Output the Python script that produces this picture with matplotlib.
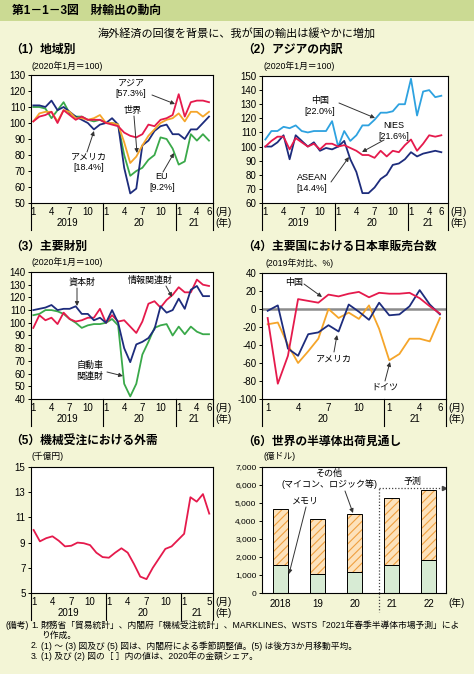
import numpy as np
import matplotlib
matplotlib.use('Agg')
import matplotlib.pyplot as plt
from matplotlib.patches import Rectangle

plt.rcParams['font.family'] = ['Liberation Sans', 'Noto Sans CJK JP']
plt.rcParams['axes.unicode_minus'] = False
plt.rcParams['hatch.linewidth'] = 0.8

# ---- data ----
# (1) by region, 2019/1 - 2021/6, 2020/1 = 100
months_a = list(range(1, 13)) * 2 + list(range(1, 7))
years_a = ['2019', '20', '21']
world = [101, 106, 107, 107, 101, 108, 107, 103, 103, 102, 103, 105,
         100, 100, 99, 88, 75, 79, 86, 92, 96, 100, 102, 103,
         106, 101, 107, 107, 104, 107]
asia = [101, 104, 105, 107, 100, 108, 105, 102, 104, 102, 102, 102,
        100, 99, 98, 94, 92, 91, 93, 99, 98, 102, 103, 105,
        118, 104, 113, 114, 114, 113]
usa = [111, 111, 110, 114, 108, 110, 107, 104, 102, 100, 96, 99,
       100, 103, 99, 72, 56, 59, 86, 89, 95, 98, 99, 93,
       93, 90, 96, 96, 100, 104]
eu = [110, 110, 109, 103, 108, 113, 106, 104, 104, 102, 101, 102,
      100, 100, 99, 80, 67, 70, 72, 77, 80, 91, 90, 84,
      74, 76, 93, 89, 93, 89]

# (2) Asia breakdown
china = [105, 111, 111, 114, 113, 115, 111, 110, 111, 111, 111, 118,
         100, 111, 104, 108, 115, 115, 119, 124, 124, 125, 130, 130,
         148, 122, 139, 140, 135, 136]
nies = [100, 104, 107, 107, 98, 106, 103, 100, 102, 98, 102, 102,
        100, 101, 99, 97, 94, 94, 92, 97, 93, 97, 96, 101,
        105, 97, 102, 108, 107, 108]
asean = [100, 100, 103, 108, 91, 108, 104, 100, 103, 97, 99, 98,
         100, 104, 91, 82, 67, 67, 71, 77, 80, 87, 88, 91,
         96, 93, 95, 96, 97, 96]

# (3) by goods
capital = [110, 111, 112, 114, 110, 111, 111, 113, 107, 107, 102, 104,
           100, 110, 100, 80, 69, 83, 85, 88, 95, 113, 108, 110,
           119, 111, 126, 129, 121, 121]
info = [96, 106, 102, 104, 99, 108, 103, 101, 102, 104, 104, 111,
        100, 106, 101, 102, 97, 92, 101, 115, 117, 112, 118, 122,
        128, 124, 124, 134, 130, 129]
auto = [106, 107, 110, 110, 109, 107, 103, 100, 96, 98, 99, 99,
        100, 103, 98, 52, 42, 52, 75, 85, 96, 98, 99, 90,
        97, 91, 97, 93, 91, 91]

# (4) Japanese car sales, change vs 2019 (%), 2020/1 - 2021/6
months_b = list(range(1, 13)) + list(range(1, 7))
years_b = ['20', '21']
cn_sales = [-10, -83, -52, 11, 9, 7, 16, 14, 17, 19, 13, 18,
            17, 17, 18, 12, 3, -5]
us_sales = [-2, 4, -44, -52, -28, -26, -18, -25, 5, -3, -12, 7,
            -7, -6, 3, 21, 5, -6]
de_sales = [-17, -15, -40, -60, -47, -33, 0, -10, -4, -11, 4, -22,
            -57, -50, -33, -33, -36, -10]

# (5) machinery orders, external demand (千億円), 2019/1 - 2021/5
months_c = list(range(1, 13)) * 2 + list(range(1, 6))
years_c = ['2019', '20', '21']
orders = [10.0, 9.1, 9.35, 9.5, 9.15, 8.7, 8.75, 9.0, 8.95, 8.8, 8.2, 7.85,
          7.8, 8.2, 8.55, 8.2, 7.3, 6.3, 6.1, 7.0, 7.75, 8.5, 8.7, 9.2,
          9.7, 12.6, 12.25, 12.85, 11.3]

# (6) world semiconductor shipments (億ドル)
semi_years = ['2018', '19', '20', '21', '22']
memory = [1580, 1064, 1174, 1552, 1820]
total = [4688, 4123, 4404, 5272, 5734]

# ---- colours ----
BG = '#f3f5d6'
HEAD = '#cbda93'
NAVY = '#1d2c7c'
RED = '#e51a4c'
ORANGE = '#f5a52a'
GREEN = '#3aa94a'
LBLUE = '#2ea2e0'
ARROW = '#333333'

W, H = 474, 674
fig = plt.figure(figsize=(W / 100, H / 100), dpi=100, facecolor=BG)


def fp(x, y):
    return (x / W, 1 - y / H)


def px_axes(l, t, r, b):
    ax = fig.add_axes([l / W, 1 - b / H, (r - l) / W, (b - t) / H])
    ax.set_facecolor('white')
    for s in ax.spines.values():
        s.set_linewidth(0.8)
    ax.tick_params(axis='y', length=2.5, width=0.7, labelsize=7, pad=1.5)
    ax.tick_params(axis='x', length=0, labelsize=7, pad=3)
    ax._hpx = b - t
    return ax


def below(ax, x, px, text, xycoords=('data', 'axes fraction'), dx=0, ha='center'):
    ax.annotate(text, xy=(x, 0), xycoords=xycoords, xytext=(dx, -px * 0.72),
                textcoords='offset points', ha=ha, va='center', fontsize=7,
                annotation_clip=False)


def month_axis(ax, months, years, lim):
    n = len(months)
    ax.set_xlim(lim)
    ticks = [i for i, m in enumerate(months)
             if (m in (1, 4, 7, 10) and n - 1 - i >= 2) or i == n - 1]
    ax.set_xticks(ticks, [str(months[i]) for i in ticks])
    starts = [i for i, m in enumerate(months) if m == 1 and i > 0]
    edges = [lim[0]] + [s - 0.5 for s in starts] + [lim[1]]
    h = 27 / ax._hpx
    trans = ax.get_xaxis_transform()
    for e in edges:
        ax.plot([e, e], [0, -h], transform=trans, clip_on=False, color='k', lw=0.8)
    for k, yl in enumerate(years):
        below(ax, (edges[k] + edges[k + 1]) / 2, 20, yl)
    below(ax, 1, 9, '(月)', xycoords='axes fraction', dx=2, ha='left')
    below(ax, 1, 20, '(年)', xycoords='axes fraction', dx=2, ha='left')


def label(ax, text, xy, tip=None, start=None, size=6.5, ha='center'):
    fig.text(*fp(*xy), text, fontsize=size, ha=ha, va='center', linespacing=1.2)
    if tip is not None:
        ax.annotate('', xy=fp(*tip), xycoords='figure fraction',
                    xytext=fp(*start), textcoords='figure fraction',
                    arrowprops=dict(arrowstyle='-|>', color=ARROW, lw=0.7,
                                    mutation_scale=6, shrinkA=0, shrinkB=0),
                    annotation_clip=False)


# ---- header ----
fig.patches.append(Rectangle(fp(0, 21), 1, 21 / H, transform=fig.transFigure,
                             facecolor=HEAD, edgecolor='none'))
fig.text(*fp(12, 11), '第1－1－3図　財輸出の動向', fontsize=8.5, ha='left',
         va='center', fontweight='bold')
fig.text(*fp(237, 33), '海外経済の回復を背景に、我が国の輸出は緩やかに増加',
         fontsize=8, ha='center', va='center')

titles = [((10, 50), '（1）地域別'), ((242, 50), '（2）アジアの内訳'),
          ((10, 247), '（3）主要財別'), ((242, 247), '（4）主要国における日本車販売台数'),
          ((10, 442), '（5）機械受注における外需'), ((242, 442), '（6）世界の半導体出荷見通し')]
for pos, t in titles:
    fig.text(*fp(*pos), t, fontsize=8.5, ha='left', va='center', fontweight='bold')

units = [((31, 66), '(2020年1月＝100)'), ((264, 66), '(2020年1月＝100)'),
         ((31, 262), '(2020年1月＝100)'), ((266, 263), '(2019年対比、%)'),
         ((31, 456), '(千億円)'), ((264, 456), '(億ドル)')]
for pos, t in units:
    fig.text(*fp(*pos), t, fontsize=6.3, ha='left', va='center')

# ---- (1) ----
ax1 = px_axes(31, 75, 213, 203)
x = np.arange(len(months_a))
ax1.plot(x, eu, color=GREEN, lw=1.3)
ax1.plot(x, usa, color=NAVY, lw=1.3)
ax1.plot(x, world, color=ORANGE, lw=1.3)
ax1.plot(x, asia, color=RED, lw=1.3)
ax1.set_ylim(50, 130)
ax1.set_yticks(range(50, 131, 10))
month_axis(ax1, months_a, years_a, (-0.38, 29.66))
label(ax1, 'アジア\n[57.3%]', (131, 88), (175, 104), (152, 95))
label(ax1, '世界', (133, 110), (137, 153), (134, 116))
label(ax1, 'アメリカ\n[18.4%]', (89, 162), (94, 131), (87, 152))
label(ax1, 'EU\n[9.2%]', (162, 182), (174, 153), (163, 172))

# ---- (2) ----
ax2 = px_axes(262, 76, 448, 203)
ax2.plot(x, china, color=LBLUE, lw=1.3)
ax2.plot(x, asean, color=NAVY, lw=1.3)
ax2.plot(x, nies, color=RED, lw=1.3)
ax2.set_ylim(60, 150)
ax2.set_yticks(range(60, 151, 10))
month_axis(ax2, months_a, years_a, (-0.55, 30.1))
label(ax2, '中国\n[22.0%]', (320, 106), (375, 118), (339, 103))
label(ax2, 'NIES\n[21.6%]', (394, 131), (362, 152), (384, 140))
label(ax2, 'ASEAN\n[14.4%]', (312, 183), (349, 157), (331, 182))

# ---- (3) ----
ax3 = px_axes(31, 272, 213, 399)
ax3.plot(x, auto, color=GREEN, lw=1.3)
ax3.plot(x, info, color=RED, lw=1.3)
ax3.plot(x, capital, color=NAVY, lw=1.3)
ax3.set_ylim(40, 140)
ax3.set_yticks(range(40, 141, 10))
month_axis(ax3, months_a, years_a, (-0.38, 29.66))
label(ax3, '資本財', (82, 282), (77, 306), (77, 288))
label(ax3, '情報関連財', (150, 280), (172, 297), (166, 286))
label(ax3, '自動車\n関連財', (90, 371), (123, 376), (107, 372))

# ---- (4) ----
ax4 = px_axes(262, 273, 446, 399)
xb = np.arange(len(months_b))
ax4.axhline(0, color='#8c8c8c', lw=1.8, zorder=1)
ax4.plot(xb, de_sales, color=ORANGE, lw=1.3)
ax4.plot(xb, us_sales, color=NAVY, lw=1.3)
ax4.plot(xb, cn_sales, color=RED, lw=1.3)
ax4.set_ylim(-100, 40)
ax4.set_yticks(range(-100, 41, 20))
month_axis(ax4, months_b, years_b, (-0.56, 17.6))
label(ax4, '中国', (294, 282), (322, 297), (304, 284))
label(ax4, 'アメリカ', (334, 359), (337, 335), (334, 352))
label(ax4, 'ドイツ', (385, 387), (390, 362), (385, 381))

# ---- (5) ----
ax5 = px_axes(31, 467, 213, 593)
xc = np.arange(len(months_c))
ax5.plot(xc, orders, color=RED, lw=1.3)
ax5.set_ylim(5, 15)
ax5.set_yticks(range(5, 16, 2))
month_axis(ax5, months_c, years_c, (-0.42, 28.6))

# ---- (6) ----
ax6 = px_axes(262, 467, 446, 593)
xs = np.arange(len(semi_years))
other = [t - m for t, m in zip(total, memory)]
ax6.bar(xs, memory, width=0.42, color='#d7ebd4', edgecolor='k', lw=0.7)
ax6.bar(xs, other, bottom=memory, width=0.42, color='#fde2bb',
        edgecolor='#f0a040', hatch='////', lw=0)
ax6.bar(xs, other, bottom=memory, width=0.42, fill=False, edgecolor='k', lw=0.7)
ax6.set_xlim(-0.5, 4.47)
ax6.set_ylim(0, 7000)
ax6.set_yticks(range(0, 7001, 1000),
               ['0'] + [f'{v:,}' for v in range(1000, 7001, 1000)])
ax6.tick_params(axis='y', labelsize=6)
ax6.set_xticks(xs, semi_years)
ax6.tick_params(axis='x', pad=4)
below(ax6, 1, 10, '(年)', xycoords='axes fraction', dx=2, ha='left')
fx = 2.66
ax6.plot([fx, fx], [0, 5850], color='#444444', lw=0.9, ls=(0, (1, 1.5)))
ax6.plot([fx, fx], [0, -19 / 126], color='#444444', lw=0.9, ls=(0, (1, 1.5)),
         transform=ax6.get_xaxis_transform(), clip_on=False)
ax6.plot([fx, 4.4], [5850, 5850], color='#444444', lw=0.9, ls=(0, (1, 1.5)))
ax6.plot([4.42], [5850], marker='>', ms=3, color='#444444', clip_on=False)
label(ax6, '予測', (412, 481))
label(ax6, 'その他\n(マイコン、ロジック等)', (329, 479), (353, 513), (345, 491))
label(ax6, 'メモリ', (305, 501), (289, 574), (306, 507))

# ---- notes ----
ns = 6.3
rows = [(625, '1.', '財務省「貿易統計」、内閣府「機械受注統計」、MARKLINES、WSTS「2021年春季半導体市場予測」によ'),
        (635.5, '', 'り作成。'),
        (646, '2.', '(1) ～ (3) 図及び (5) 図は、内閣府による季節調整値。(5) は後方3か月移動平均。'),
        (656.5, '3.', '(1) 及び (2) 図の［ ］内の値は、2020年の金額シェア。')]
fig.text(*fp(6, rows[0][0]), '(備考)', fontsize=ns, ha='left', va='center')
for y, num, txt in rows:
    if num:
        fig.text(*fp(31, y), num, fontsize=ns, ha='left', va='center')
    fig.text(*fp(41, y), txt, fontsize=ns, ha='left', va='center')

fig.savefig('out.png', dpi=100, facecolor=BG)
